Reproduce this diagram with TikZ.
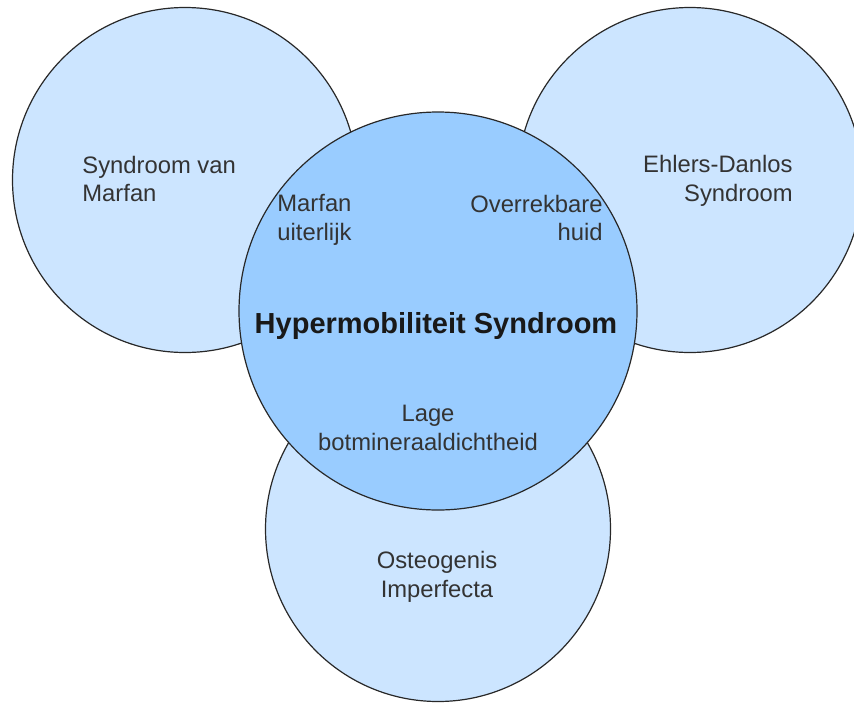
\documentclass[tikz,border=0pt]{standalone}
\usepackage{fontspec}
\setmainfont{Liberation Sans}
\usetikzlibrary{positioning}

\definecolor{lightblue}{RGB}{204,229,255}
\definecolor{midblue}{RGB}{153,204,255}
\definecolor{textgray}{RGB}{51,51,51}
\definecolor{linegray}{RGB}{40,40,40}

\begin{document}
\begin{tikzpicture}[
    x=0.5pt, y=-0.5pt,
    sidecircle/.style={circle, draw=linegray, line width=0.6pt, fill=lightblue,
                       inner sep=0pt, minimum size=172.5pt},
    maincircle/.style={circle, draw=linegray, line width=0.6pt, fill=midblue,
                       inner sep=0pt, minimum size=199pt},
    lbl/.style={font=\fontsize{11.9}{14.25}\selectfont, text=textgray, inner sep=0pt},
    headlbl/.style={font=\fontsize{14.5}{17}\selectfont\bfseries, text=black!90, inner sep=0pt}
  ]

    % Canvas
    \fill[white] (0,0) rectangle (854,702);
    \useasboundingbox (0,0) rectangle (854,702);

    % Outer circles
    \node[sidecircle] (marfan) at (185,180) {};
    \node[sidecircle] (ehlers) at (690,180) {};
    \node[sidecircle] (osteo)  at (438,529) {};

    % Centre circle
    \node[maincircle] (hyper) at (438,311) {};

    % Outer labels
    \node[lbl, align=left, anchor=west]  (marfanlbl) at (82,179)  {Syndroom van\\Marfan};
    \node[lbl, align=right, anchor=east] (ehlerslbl) at (793,181) {Ehlers-Danlos\\Syndroom};
    \node[lbl, align=center]             (osteolbl)  at (437,577) {Osteogenis\\Imperfecta};

    % Overlap labels
    \node[lbl, align=left, anchor=west]  (looklbl) at (277,220) {Marfan\\uiterlijk};
    \node[lbl, align=right, anchor=east] (skinlbl) at (603,218) {Overrekbare\\huid};
    \node[lbl, align=center]             (bonelbl) at (428,428) {Lage\\botmineraaldichtheid};

    % Title
    \node[headlbl] (hyperlbl) at (436,326) {Hypermobiliteit Syndroom};

  \end{tikzpicture}
\end{document}
